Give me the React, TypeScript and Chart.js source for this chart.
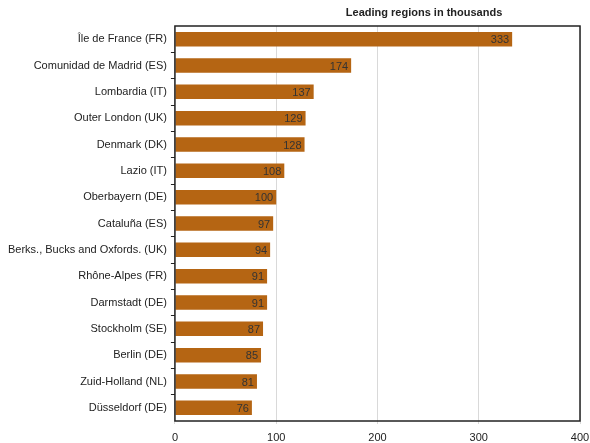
import React, { useEffect, useRef } from "react";
import { Chart, registerables } from "chart.js";

Chart.register(...registerables);

const regions = [
  "Île de France (FR)",
  "Comunidad de Madrid (ES)",
  "Lombardia (IT)",
  "Outer London (UK)",
  "Denmark (DK)",
  "Lazio (IT)",
  "Oberbayern (DE)",
  "Cataluña (ES)",
  "Berks., Bucks and Oxfords. (UK)",
  "Rhône-Alpes (FR)",
  "Darmstadt (DE)",
  "Stockholm (SE)",
  "Berlin (DE)",
  "Zuid-Holland (NL)",
  "Düsseldorf (DE)",
];
const values = [333, 174, 137, 129, 128, 108, 100, 97, 94, 91, 91, 87, 85, 81, 76];
const xTicks = [0, 100, 200, 300, 400];
const titleText = "Leading regions in thousands";

const FONT = "'Liberation Sans', Arial, Helvetica, sans-serif";

const framePlugin = {
  id: "frameAndLabels",
  afterDatasetsDraw(chart: any) {
    const { ctx, chartArea } = chart;
    ctx.save();
    const meta = chart.getDatasetMeta(0);
    ctx.font = `11px ${FONT}`;
    ctx.fillStyle = "#333";
    ctx.textAlign = "right";
    ctx.textBaseline = "middle";
    meta.data.forEach((bar: any, i: number) => {
      ctx.fillText(String(values[i]), bar.x - 3, bar.y + 1);
    });
    ctx.strokeStyle = "#222";
    ctx.lineWidth = 1.5;
    ctx.strokeRect(chartArea.left, chartArea.top, chartArea.right - chartArea.left, chartArea.bottom - chartArea.top);
    ctx.font = `bold 11px ${FONT}`;
    ctx.fillStyle = "#222";
    ctx.textAlign = "center";
    ctx.textBaseline = "middle";
    const tx = chartArea.left + (chartArea.right - chartArea.left) * 0.615;
    ctx.fillText(titleText, tx, chartArea.top - 13);
    ctx.restore();
  },
};

export default function App() {
  const ref = useRef<HTMLCanvasElement>(null);
  useEffect(() => {
    document.body.style.margin = "0";
    const chart = new Chart(ref.current!, {
      type: "bar",
      data: {
        labels: regions,
        datasets: [
          {
            data: values,
            backgroundColor: "#b56513",
            barPercentage: 0.55,
            categoryPercentage: 1,
          },
        ],
      },
      options: {
        indexAxis: "y",
        animation: false,
        responsive: false,
        layout: { padding: { top: 26, right: 4, left: 4, bottom: 0 } },
        plugins: { legend: { display: false }, tooltip: { enabled: false }, title: { display: false } },
        scales: {
          x: {
            min: 0,
            max: 400,
            afterBuildTicks: (axis: any) => {
              axis.ticks = xTicks.map((v) => ({ value: v }));
            },
            afterFit: (axis: any) => {
              axis.height = 22;
              axis.paddingRight = 10;
            },
            grid: { color: "#d9d9d9", lineWidth: 1, tickLength: 3, drawTicks: true },
            border: { display: false },
            ticks: { color: "#222", font: { family: FONT, size: 11 }, padding: 7, maxRotation: 0 },
          },
          y: {
            grid: {
              drawOnChartArea: false,
              offset: true,
              tickLength: 4,
              color: (c: any) => (c.type !== "tick" || c.index === 0 ? "rgba(0,0,0,0)" : "#222"),
            },
            border: { display: false },
            ticks: { color: "#222", font: { family: FONT, size: 11 }, padding: 4 },
          },
        },
      },
      plugins: [framePlugin],
    });
    return () => chart.destroy();
  }, []);
  return <canvas ref={ref} width={590} height={443} style={{ display: "block" }} />;
}
